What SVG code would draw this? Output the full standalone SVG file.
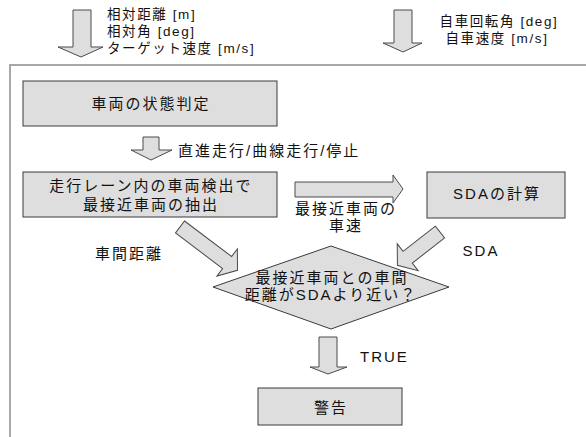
<svg xmlns="http://www.w3.org/2000/svg" width="586" height="437" viewBox="0 0 586 437">
<style>
.box{fill:#dedede;stroke:#3a3a3a;stroke-width:1}
.arr{fill:#dedede;stroke:#4a4a4a;stroke-width:1;stroke-linejoin:miter}
.t{font-family:"Liberation Sans","Noto Sans CJK JP",sans-serif;font-size:15px;letter-spacing:2px;fill:#111}
.s{font-family:"Liberation Sans","Noto Sans CJK JP",sans-serif;font-size:13.5px;letter-spacing:1.6px;fill:#111}
.m{text-anchor:middle}
</style>
<rect width="586" height="437" fill="#fff"/>
<path d="M10,437 L10,65 L586,65" fill="none" stroke="#a8a8a8" stroke-width="2"/>
<g id="inputs">
<text class="s" x="107" y="19">相対距離 [m]</text>
<text class="s" x="107" y="36">相対角 [deg]</text>
<text class="s" x="107" y="52.5">ターゲット速度 [m/s]</text>
<text class="s m" x="499" y="26">自車回転角 [deg]</text>
<text class="s m" x="497" y="42.5">自車速度 [m/s]</text>
</g>
<g id="connectors">
<polygon class="arr" points="73,10 91,10 91,47 103,47 81,57 58,47 73,47"/>
<polygon class="arr" points="394,10 412,10 412,43 422,43 403,52 383,43 394,43"/>
<polygon class="arr" points="143,137 159,137 159,150 172,150 151,160 131,150 143,150"/>
<text class="t" x="178" y="156">直進走行/曲線走行/停止</text>
<polygon class="arr" points="295,182 393,182 393,175 403,189 393,203 393,197 295,197"/>
<text class="t m" x="346" y="213.5">最接近車両の</text>
<text class="t m" x="346" y="230.5">車速</text>
<polygon class="arr" transform="translate(180,227) rotate(37)" points="0,-7.5 59,-7.5 59,-17 72,0 59,17 59,7.5 0,7.5"/>
<text class="t m" x="129" y="258.5">車間距離</text>
<polygon class="arr" transform="translate(440,232) rotate(142)" points="0,-7.5 41,-7.5 41,-17 54,0 41,17 41,7.5 0,7.5"/>
<text class="t m" x="481" y="256">SDA</text>
<polygon class="arr" points="319,337 337,337 337,367 347,367 328,374 310,367 319,367"/>
<text class="t" x="360" y="362">TRUE</text>
</g>
<g id="state">
<rect class="box" x="23" y="81" width="254" height="45"/>
<text class="t m" x="151" y="109">車両の状態判定</text>
</g>
<g id="detect">
<rect class="box" x="23" y="172" width="254" height="45"/>
<text class="t m" x="151" y="191">走行レーン内の車両検出で</text>
<text class="t m" x="151" y="210">最接近車両の抽出</text>
</g>
<g id="sda">
<rect class="box" x="427" y="172" width="138" height="46"/>
<text class="t m" x="497" y="199">SDAの計算</text>
</g>
<g id="decision">
<polygon class="box" points="213,287 331,246 449,287 331,329"/>
<text class="t m" x="332" y="283">最接近車両との車間</text>
<text class="t m" x="331" y="300">距離がSDAより近い？</text>
</g>
<g id="warn">
<rect class="box" x="258" y="388" width="144" height="37"/>
<text class="t m" x="331" y="413">警告</text>
</g>
</svg>
